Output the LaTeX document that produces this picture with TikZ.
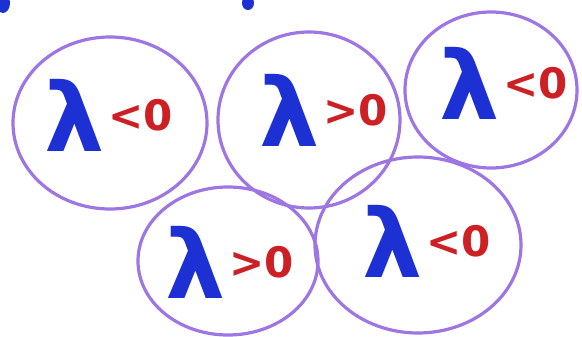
\documentclass[tikz,border=0pt]{standalone}
\usepackage{fontspec}
\setmainfont{DejaVu Sans}
\usetikzlibrary{positioning,shapes.geometric}
\definecolor{cellpurple}{RGB}{158,118,228}
\definecolor{lamblue}{RGB}{28,48,212}
\definecolor{signred}{RGB}{204,32,36}

\begin{document}
\begin{tikzpicture}[x=1pt,y=-1pt,cell/.style={ellipse,draw=cellpurple,line width=3.2pt,inner sep=0pt},lam/.style={text=lamblue,font=\bfseries\fontsize{95}{95}\selectfont,inner sep=0pt},rel/.style={text=signred,font=\bfseries\fontsize{42}{42}\selectfont,inner sep=0pt}]
\useasboundingbox (0,0) rectangle (582,337);
% cells
\node[cell,minimum width=194pt,minimum height=172pt] (c1) at (110,123) {};
\node[cell,minimum width=182pt,minimum height=176pt] (c2) at (309,120) {};
\node[cell,minimum width=172pt,minimum height=156pt] (c3) at (491,90) {};
\node[cell,minimum width=180pt,minimum height=148pt] (c4) at (228,261) {};
\node[cell,minimum width=206pt,minimum height=176pt] (c5) at (418,245) {};
% signs
\node[lam] (l1) at (75,115) {λ};
\node[rel,right=3pt of l1] (r1) {<0};
\node[lam] (l2) at (290,110) {λ};
\node[rel,right=3pt of l2] (r2) {>0};
\node[lam] (l3) at (470,83) {λ};
\node[rel,right=3pt of l3] (r3) {<0};
\node[lam] (l4) at (196,262) {λ};
\node[rel,right=3pt of l4] (r4) {>0};
\node[lam] (l5) at (393,241) {λ};
\node[rel,right=3pt of l5] (r5) {<0};
% cut-off strokes at the top
\fill[lamblue] (3,3) ellipse [x radius=7,y radius=10];
\fill[lamblue] (248,3) ellipse [x radius=6,y radius=7];
\end{tikzpicture}
\end{document}
